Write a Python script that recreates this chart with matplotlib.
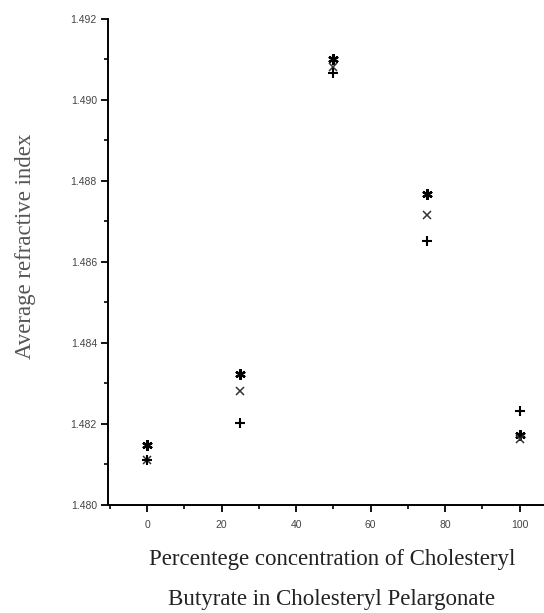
import matplotlib
matplotlib.use("Agg")
import matplotlib.pyplot as plt
from matplotlib.ticker import MultipleLocator, FormatStrFormatter

# percentage concentration of cholesteryl butyrate
conc = [0, 25, 50, 75, 100]

# average refractive index, three series
series_star = [1.48148, 1.48323, 1.49100, 1.48768, 1.48172]
series_cross = [1.48112, 1.48282, 1.49082, 1.48716, 1.48162]
series_plus = [1.48112, 1.48203, 1.49066, 1.48652, 1.48233]

x_ticks = [0, 20, 40, 60, 80, 100]
y_ticks = [1.480, 1.482, 1.484, 1.486, 1.488, 1.490, 1.492]

fig = plt.figure(figsize=(5.44, 6.13), dpi=100)
ax = fig.add_axes([108 / 544, 1 - 505 / 613, 449 / 544, 486 / 613])

ax.plot(conc, series_star, linestyle="none", marker=(6, 2, 0), markersize=7.5,
        markeredgewidth=1.7, color="black")
ax.plot(conc, series_cross, linestyle="none", marker="x", markersize=5.5,
        markeredgewidth=1.1, color="#333333")
ax.plot(conc, series_plus, linestyle="none", marker="+", markersize=7,
        markeredgewidth=1.5, color="black")

ax.set_xlim(-10.5, 110)
ax.set_ylim(1.480, 1.492)
ax.set_xticks(x_ticks)
ax.set_yticks(y_ticks)
ax.xaxis.set_minor_locator(MultipleLocator(10))
ax.yaxis.set_minor_locator(MultipleLocator(0.001))
ax.yaxis.set_major_formatter(FormatStrFormatter("%.3f"))

for side in ["top", "right"]:
    ax.spines[side].set_visible(False)
for side in ["left", "bottom"]:
    ax.spines[side].set_linewidth(1.4)

ax.tick_params(which="major", direction="out", length=5, width=1.3,
               labelsize=7.5, labelcolor="#444444", pad=3)
ax.tick_params(which="minor", direction="out", length=3, width=1.2)
for lab in ax.get_xticklabels() + ax.get_yticklabels():
    lab.set_family("Liberation Sans")
ax.tick_params(axis="x", pad=6)

fig.text(26 / 544, 1 - 246 / 613, "Average refractive index", rotation=90,
         ha="center", va="center", fontsize=16.5, family="Liberation Serif",
         color="#555555")
fig.text(332 / 544, 1 - 560 / 613, "Percentege concentration of Cholesteryl",
         ha="center", va="center", fontsize=16.5, family="Liberation Serif",
         color="#222222")
fig.text(332 / 544, 1 - 600 / 613, "Butyrate in Cholesteryl Pelargonate",
         ha="center", va="center", fontsize=16.5, family="Liberation Serif",
         color="#222222")

fig.savefig("out.png", dpi=100)
